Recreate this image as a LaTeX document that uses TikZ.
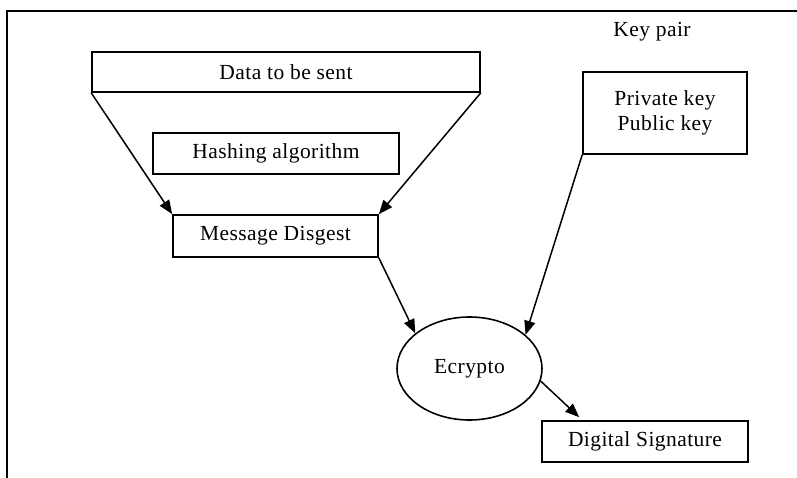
\documentclass[tikz,border=0pt]{standalone}
\usepackage{fontspec}
\setmainfont{Liberation Serif}[LetterSpace=2]
\usetikzlibrary{arrows.meta,shapes.geometric}
\begin{document}
\begin{tikzpicture}[x=1pt,y=-1pt,
  txt/.style={font=\fontsize{21.5}{25}\selectfont},
  box/.style={txt,draw,line width=1.6pt,inner sep=0pt,align=center},
  conn/.style={line width=1.5pt,-{Triangle[length=14pt,width=11pt]}}]
\useasboundingbox (0,0) rectangle (797,478);
\draw[line width=1.8pt] (7,478) -- (7,11) -- (797,11);
\node[txt] (kp) at (652,32) {Key pair};
\node[box,minimum width=388pt,minimum height=40pt] (data) at (286,72) {Data to be sent};
\node[box,minimum width=246pt,minimum height=41pt] (hash) at (276,153.5) {Hashing algorithm};
\node[box,minimum width=205pt,minimum height=42pt] (msg) at (275.5,236) {Message Disgest};
\node[box,minimum width=164pt,minimum height=82pt] (keys) at (665,113) {Private key\\Public key};
\node[box,ellipse,minimum width=145pt,minimum height=103pt] (enc) at (469.5,368.5) {Ecrypto};
\node[box,minimum width=206pt,minimum height=41pt] (ds) at (645,441.5) {Digital Signature};
\draw[conn] (data.south west) -- (msg.north west);
\draw[conn] (data.south east) -- (msg.north east);
\draw[conn] (msg.south east) -- (enc.147);
\draw[conn] (keys.south west) -- (enc.31);
\draw[conn] (enc.-10) -- ([xshift=38pt,yshift=3pt]ds.north west);
\end{tikzpicture}
\end{document}
